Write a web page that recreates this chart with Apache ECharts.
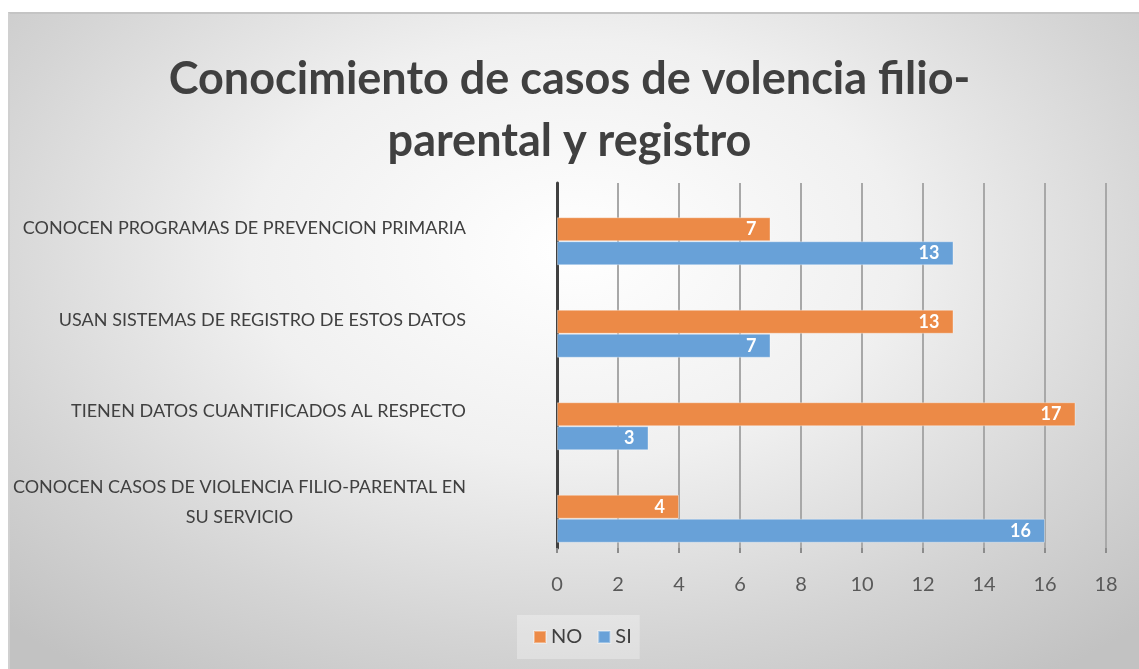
<!DOCTYPE html>
<html>
<head>
<meta charset="utf-8">
<script src="https://cdn.jsdelivr.net/npm/echarts@6/dist/echarts.min.js"></script>
<style>
  html, body { margin: 0; padding: 0; background: #fff; }
  #bg {
    position: absolute; left: 8px; top: 12px; width: 1131px; height: 657px;
    border-top: 2px solid #c4c4c4; border-left: 2px solid #d0d0d0; box-sizing: border-box;
    background: radial-gradient(ellipse 72% 80% at 50% 36%, #ffffff 0%, #f0f0f0 40%, #d4d4d4 75%, #c2c2c2 100%);
  }
  #chart-container { position: absolute; left: 0; top: 0; width: 1139px; height: 669px; }
</style>
</head>
<body>
<div id="bg"></div>
<div id="chart-container"></div>
<script>
const categories = [
    'CONOCEN CASOS DE VIOLENCIA FILIO-PARENTAL EN\nSU SERVICIO',
    'TIENEN DATOS CUANTIFICADOS AL RESPECTO',
    'USAN SISTEMAS DE REGISTRO DE ESTOS DATOS',
    'CONOCEN PROGRAMAS DE PREVENCION PRIMARIA'
]
const noValues = [4, 17, 13, 7]
const siValues = [16, 3, 7, 13]
const xTicks = [0, 2, 4, 6, 8, 10, 12, 14, 16, 18]

const fontName = "Lato, 'Open Sans', sans-serif"

const createChart = (id) => {
    var dom = document.getElementById(id);
    var myChart = echarts.init(dom, null, { renderer: 'canvas' });
    var option = {
        backgroundColor: 'transparent',
        animation: false,
        title: {
            text: 'Conocimiento de casos de volencia filio-\nparental y registro',
            left: 'center',
            top: 43,
            textStyle: {
                fontFamily: fontName,
                fontSize: 45,
                fontWeight: 'bold',
                lineHeight: 62,
                color: '#404040'
            }
        },
        legend: {
            data: ['NO', 'SI'],
            top: 615,
            left: 517,
            itemWidth: 12,
            itemHeight: 12,
            itemGap: 15,
            icon: 'rect',
            padding: [12, 8, 12, 16],
            backgroundColor: 'rgba(255,255,255,0.3)',
            textStyle: { fontFamily: fontName, fontSize: 20, color: '#404040' }
        },
        grid: [
            { left: 557, right: 33, top: 183, bottom: 121 },
            { left: 557, right: 33, top: 195, bottom: 104 }
        ],
        xAxis: [
            {
                type: 'value', gridIndex: 0,
                min: xTicks[0], max: xTicks[xTicks.length - 1], interval: 2,
                axisLine: { show: false },
                axisTick: { show: true, length: 5, lineStyle: { color: '#8c8c8c', width: 2 } },
                axisLabel: { margin: 27, fontFamily: fontName, fontSize: 20, color: '#595959' },
                splitLine: { show: true, lineStyle: { color: '#a8a8a8', width: 2 } }
            },
            {
                type: 'value', gridIndex: 1,
                min: xTicks[0], max: xTicks[xTicks.length - 1], interval: 2,
                show: false
            }
        ],
        yAxis: [
            {
                type: 'category', gridIndex: 0, data: categories,
                axisLine: { show: true, lineStyle: { color: '#404040', width: 3 } },
                axisTick: { show: false },
                axisLabel: {
                    margin: 91,
                    fontFamily: fontName, fontSize: 18, color: '#404040', lineHeight: 30,
                    formatter: (v) => v.split('\n').map(s => '{c|' + s + '}').join('\n'),
                    rich: { c: { align: 'center', fontFamily: fontName, fontSize: 18, color: '#404040', lineHeight: 30 } }
                }
            },
            {
                type: 'category', gridIndex: 1, data: categories, show: false
            }
        ],
        series: [
            {
                name: 'NO', type: 'bar', xAxisIndex: 1, yAxisIndex: 1,
                data: noValues, barWidth: 24, barGap: '0%',
                itemStyle: { color: '#EC8A47', borderColor: 'rgba(255,255,255,0.35)', borderWidth: 1 },
                label: { show: true, position: 'insideRight', distance: 14, color: '#fff', fontWeight: 'bold', fontFamily: fontName, fontSize: 18 }
            },
            {
                name: 'SI', type: 'bar', xAxisIndex: 1, yAxisIndex: 1,
                data: siValues, barWidth: 24, barGap: '0%',
                itemStyle: { color: '#68A1D8', borderColor: 'rgba(255,255,255,0.35)', borderWidth: 1 },
                label: { show: true, position: 'insideRight', distance: 14, color: '#fff', fontWeight: 'bold', fontFamily: fontName, fontSize: 18 }
            }
        ]
    };
    myChart.setOption(option);
}

createChart('chart-container')
</script>
</body>
</html>
